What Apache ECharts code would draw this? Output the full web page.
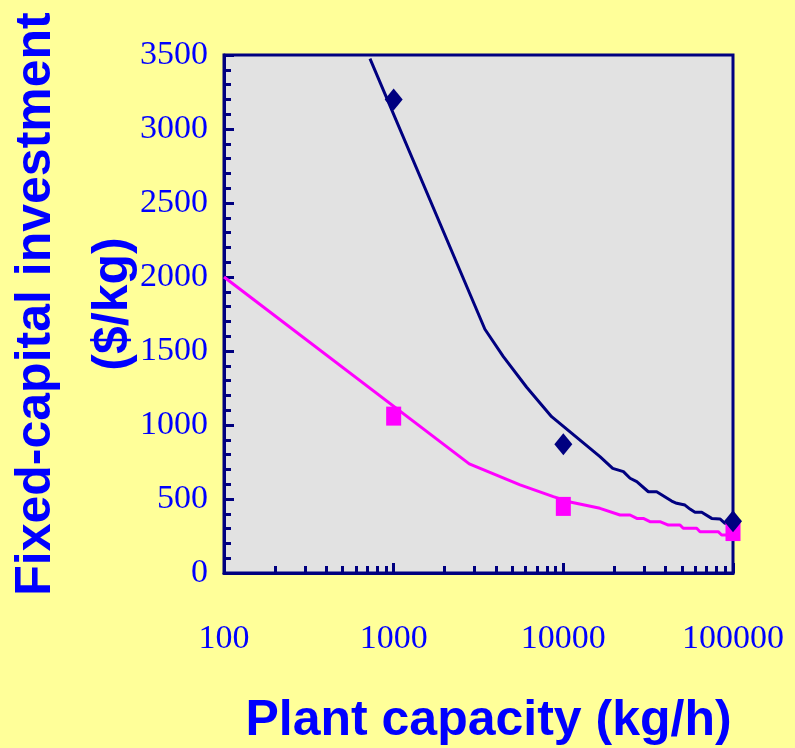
<!DOCTYPE html>
<html>
<head>
<meta charset="utf-8">
<script src="https://cdn.jsdelivr.net/npm/echarts@6/dist/echarts.min.js"></script>
<style>
html,body{margin:0;padding:0;background:#ffff99;}
#chart{width:795px;height:748px;}
</style>
</head>
<body>
<div id="chart"></div>
<script>
// Curves
const navyCurveX = [725, 3450, 4430, 6080, 8530, 16440, 19540, 22600, 24740, 27090, 31700, 35490, 43500, 46600, 52100, 55800, 59700, 65400, 74900, 83800, 89700, 100000];
const navyCurveY = [3475, 1647, 1462, 1255, 1056, 786, 707, 685, 640, 617, 549, 549, 486, 471, 459, 432, 410, 410, 369, 365, 336, 330];
const pinkCurveX = [100, 2790, 5560, 8730, 10780, 16440, 21580, 24740, 27090, 29600, 32400, 37100, 41600, 48700, 50900, 61100, 63900, 81800, 85700, 100000];
const pinkCurveY = [2000, 737, 595, 516, 482, 437, 392, 392, 369, 369, 347, 347, 324, 324, 302, 302, 279, 279, 257, 257];
// Measured points
const pointX = [1000, 10000, 100000];
const navyPointY = [3200, 870, 350];
const pinkPointY = [1060, 450, 280];
// Ticks
const xMajorTicks = [100, 1000, 10000, 100000];
const xMinorTicks = [200,300,400,500,600,700,800,900,2000,3000,4000,5000,6000,7000,8000,9000,20000,30000,40000,50000,60000,70000,80000,90000];
const yMin = 0, yMax = 3500, yStep = 500;

const zip = (xs, ys) => xs.map((x, i) => [x, ys[i]]);
const NAVY = '#000080', PINK = '#ff00ff', BLUE = '#0000ff';

const chart = echarts.init(document.getElementById('chart'));
chart.setOption({
  animation: false,
  backgroundColor: '#ffff99',
  grid: {left: 224, right: 62, top: 55, bottom: 175, show: true, outerBoundsMode: 'none',
         backgroundColor: '#e2e2e2', borderColor: NAVY, borderWidth: 3, containLabel: false},
  xAxis: [{
    type: 'log', logBase: 10, min: 100, max: 100000,
    axisLine: {lineStyle: {color: NAVY, width: 3}},
    axisTick: {inside: true, length: 10, customValues: xMajorTicks, lineStyle: {color: NAVY, width: 3}},
    axisLabel: {customValues: xMajorTicks, margin: 49, fontSize: 34, fontFamily: 'Liberation Serif', color: BLUE,
                formatter: v => String(Math.round(v))},
    splitLine: {show: false},
    name: 'Plant capacity (kg/h)', nameLocation: 'middle', nameGap: 123,
    nameTextStyle: {fontSize: 50, fontWeight: 'bold', fontFamily: 'Liberation Sans', color: BLUE, padding: [0, 0, 0, 20]}
  }, {
    type: 'log', logBase: 10, min: 100, max: 100000, position: 'bottom',
    axisLine: {show: false},
    axisTick: {inside: true, length: 7, customValues: xMinorTicks, lineStyle: {color: NAVY, width: 3}},
    axisLabel: {show: false},
    splitLine: {show: false}
  }],
  yAxis: {
    type: 'value', min: yMin, max: yMax, interval: yStep,
    axisLine: {show: true, lineStyle: {color: NAVY, width: 3}},
    axisTick: {show: true, inside: true, length: 10, lineStyle: {color: NAVY, width: 3}},
    minorTick: {show: true, splitNumber: 5, length: 7, lineStyle: {color: NAVY, width: 3}},
    axisLabel: {margin: 16, fontSize: 34, fontFamily: 'Liberation Serif', color: BLUE, formatter: v => String(v)},
    splitLine: {show: false},
    name: 'Fixed-capital investment\n($/kg)', nameLocation: 'middle', nameRotate: 90, nameGap: 72,
    nameMoveOverlap: false,
    nameTextStyle: {fontSize: 50, fontWeight: 'bold', fontFamily: 'Liberation Sans', color: BLUE, lineHeight: 77,
                    padding: [0, 0, 0, 20]}
  },
  series: [
    {type: 'line', data: zip(navyCurveX, navyCurveY), showSymbol: false, symbol: 'none',
     lineStyle: {color: NAVY, width: 3}, itemStyle: {color: NAVY}, z: 2},
    {type: 'line', data: zip(pinkCurveX, pinkCurveY), showSymbol: false, symbol: 'none',
     lineStyle: {color: PINK, width: 3}, itemStyle: {color: PINK}, z: 2},
    {type: 'scatter', data: zip(pointX, pinkPointY), symbol: 'rect', symbolSize: [15, 19],
     itemStyle: {color: PINK, opacity: 1}, z: 3, clip: false},
    {type: 'scatter', data: zip(pointX, navyPointY), symbol: 'diamond', symbolSize: [18, 22],
     itemStyle: {color: NAVY, opacity: 1}, z: 4, clip: false}
  ]
});
</script>
</body>
</html>
